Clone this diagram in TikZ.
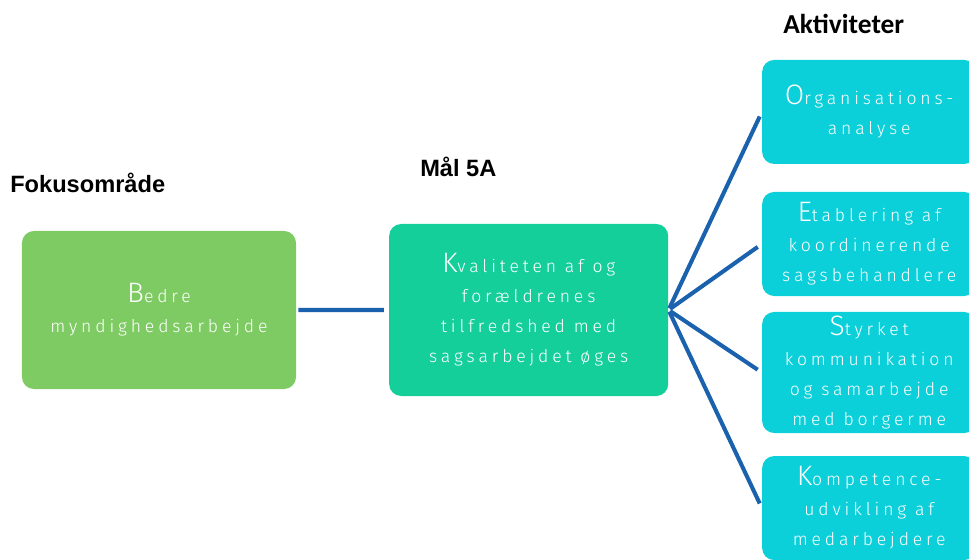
\documentclass[tikz,border=0pt]{standalone}
\usepackage{fontspec}
\usepackage{xcolor}
\usepackage{tikz}
\usetikzlibrary{trees}
\setmainfont{Liberation Sans}
\newfontfamily\aktfont{Carlito}
\newfontfamily\boxfont[LetterSpace=22]{Fira Sans Light}
\newcommand{\bigini}[1]{{\fontsize{20}{21.3}\selectfont #1}}
\definecolor{fokusgreen}{HTML}{7ECB63}
\definecolor{maalgreen}{HTML}{15CF9B}
\definecolor{aktcyan}{HTML}{0BCFD9}
\definecolor{linjeblue}{HTML}{1B62AE}
\tikzset{
	box node/.style={rectangle,rounded corners=0.3cm,text=white,align=center,inner sep=1pt,
		font=\boxfont\fontsize{12.5}{21.3}\selectfont},
	fokus node/.style={box node,fill=fokusgreen,minimum width=6.85cm,minimum height=3.95cm},
	maal node/.style={box node,fill=maalgreen,minimum width=6.975cm,minimum height=4.3cm},
	akt node/.style={box node,fill=aktcyan,minimum width=5.35cm,minimum height=2.6cm},
	head node/.style={inner sep=0pt,font=\bfseries\fontsize{16.8}{19}\selectfont},
	akt head/.style={inner sep=0pt,font=\aktfont\bfseries\fontsize{19.5}{21}\selectfont},
	conn line/.style={draw=linjeblue,line width=2.9pt,shorten <=1.4pt,shorten >=3.6pt}
}

\begin{document}
\begin{tikzpicture}[x=0.025cm,y=-0.025cm,grow'=right,
	parent anchor=east,child anchor=west,
	edge from parent/.style={conn line},
	level 1/.style={level distance=9.24cm},
	level 2/.style={level distance=8.51cm,sibling distance=3.3cm}]
	\useasboundingbox (0,0) rectangle (969,560);
	\clip (0,0) rectangle (969,560);
	% overskrifter
	\node [head node,anchor=base west] (h1) at (10,192) {Fokusområde};
	\node [head node,anchor=base west] (h2) at (420,176) {Mål 5A};
	\node [akt head,anchor=base west] (h3) at (783,33) {Aktiviteter};
	% fokus -> maal -> aktiviteter
	\node [fokus node] (1) at (159,310) {\bigini{B}edre\\myndighedsarbejde}
	child {node [maal node] (2) {\bigini{K}valiteten af og\\forældrenes\\tilfredshed med\\sagsarbejdet øges}
		child {node [akt node] (3) {\bigini{O}rganisations-\\analyse}}
		child {node [akt node] (4) {\bigini{E}tablering af\\koordinerende\\sagsbehandlere}}
		child {node [akt node,minimum height=3.025cm,yshift=2.5pt] (5) {\bigini{S}tyrket\\kommunikation\\og samarbejde\\med borgerme}}
		child {node [akt node] (6) {\bigini{K}ompetence-\\udvikling af\\medarbejdere}}
	};
\end{tikzpicture}
\end{document}
